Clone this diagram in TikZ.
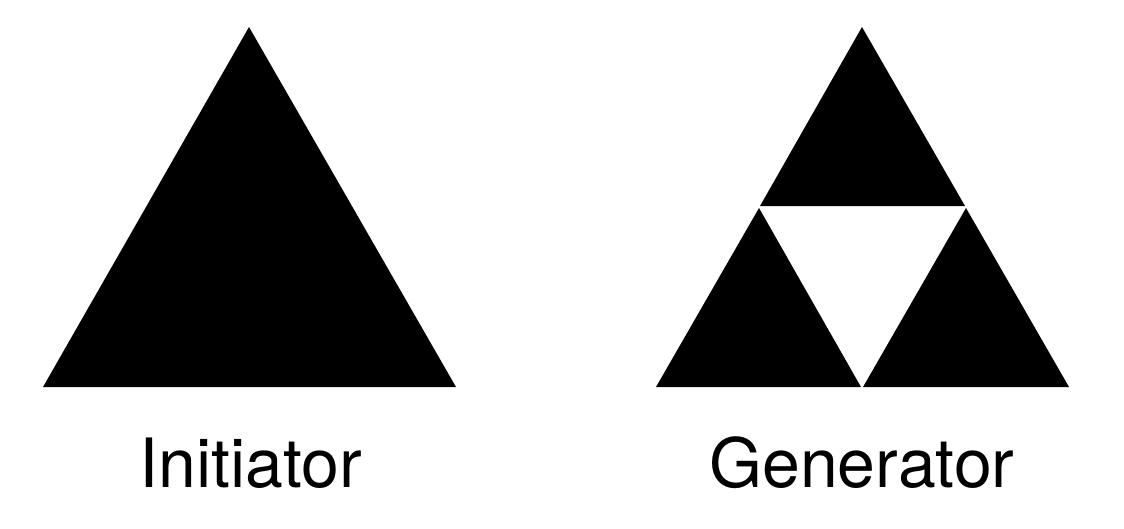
\documentclass[tikz,border=0pt]{standalone}
\usepackage{fontspec}
\setmainfont{TeX Gyre Heros}
\begin{document}
\begin{tikzpicture}[x=1pt,y=-1pt,
  tri/.style={fill=black,draw=none},
  lbl/.style={anchor=base,inner sep=0pt,font=\fontsize{68}{80}\selectfont}]
\useasboundingbox (0,0) rectangle (1124,528);
% Initiator
\fill[tri] (43,387) -- (249,27) -- (456,387) -- cycle;
% Generator
\fill[tri] (760,206) -- (862,27) -- (965,206) -- cycle;
\fill[tri] (656,387) -- (759,208) -- (861,387) -- cycle;
\fill[tri] (863,387) -- (966,208) -- (1069,387) -- cycle;
\node[lbl] (init) at (251,487) {Initiator};
\node[lbl] (gen) at (862,487) {Generator};
\end{tikzpicture}
\end{document}
